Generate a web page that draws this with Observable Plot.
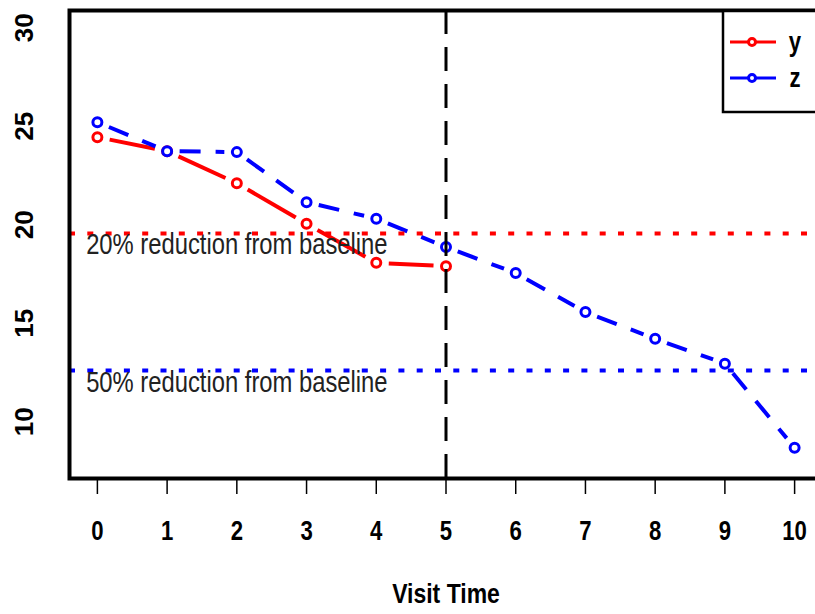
<!DOCTYPE html>
<html>
<head>
<meta charset="utf-8">
<script src="https://cdn.jsdelivr.net/npm/d3@7"></script>
<script src="https://cdn.jsdelivr.net/npm/@observablehq/plot@0.6"></script>
<style>
  html, body { margin: 0; padding: 0; background: #fff; }
  #chart { position: relative; width: 815px; height: 614px; overflow: hidden; }
</style>
</head>
<body>
<div id="chart"></div>
<script>
// ---- data ----
const visits = [0, 1, 2, 3, 4, 5, 6, 7, 8, 9, 10];
const yVisits = [0, 1, 2, 3, 4, 5];
const yValues = [24.45, 23.74, 22.11, 20.05, 18.07, 17.90];
const zValues = [25.21, 23.74, 23.69, 21.15, 20.31, 18.87, 17.55, 15.57, 14.21, 12.95, 8.68];
const xTicks = [0, 1, 2, 3, 4, 5, 6, 7, 8, 9, 10];
const yTicks = [10, 15, 20, 25, 30];
const seriesNames = ["y", "z"];
const seriesColors = ["#ff0000", "#0000ff"];
const refLevels = [19.56, 12.6];
const refLabels = ["20% reduction from baseline", "50% reduction from baseline"];
const refLabelX = 2;
const refLabelY = [19, 12];
const cutVisit = 5;
const xLabel = "Visit Time";
const xLim = [-0.4, 10.4];
const yLim = [7.12, 30.88];

// ---- layout ----
const W = 815, H = 614, mL = 69, mR = -7, mT = 10, mB = 136;
const SANS = "'Liberation Sans', Arial, sans-serif";
const NARROW_SCALE = 0.82;   // mimic the condensed look of the original text
const GAP = 12.5;            // R type = "b": gap around each point

const yRows = yVisits.map((v, i) => ({series: seriesNames[0], visit: v, value: yValues[i]}));
const zRows = visits.map((v, i) => ({series: seriesNames[1], visit: v, value: zValues[i]}));
const allRows = [...yRows, ...zRows];
const colorOf = s => seriesColors[seriesNames.indexOf(s)];
const refRows = refLabels.map((t, i) => ({t, x: refLabelX, y: refLabelY[i]}));

// scales identical to the plot's, used to trim each segment near its points
const sx = Plot.scale({x: {domain: xLim, range: [mL, W - mR]}});
const sy = Plot.scale({y: {domain: yLim, range: [H - mB, mT]}});
function gapSegments(rows) {
  const out = [];
  for (let i = 0; i < rows.length - 1; i++) {
    const a = rows[i], b = rows[i + 1];
    const x0 = sx.apply(a.visit), y0 = sy.apply(a.value);
    const x1 = sx.apply(b.visit), y1 = sy.apply(b.value);
    const d = Math.hypot(x1 - x0, y1 - y0);
    if (d <= 2 * GAP) continue;
    const t = GAP / d;
    out.push({seg: i, px: sx.invert(x0 + t * (x1 - x0)), py: sy.invert(y0 + t * (y1 - y0))});
    out.push({seg: i, px: sx.invert(x1 - t * (x1 - x0)), py: sy.invert(y1 - t * (y1 - y0))});
  }
  return out;
}
const ySegs = gapSegments(yRows);
const zSegs = gapSegments(zRows);

const chart = Plot.plot({
  width: W,
  height: H,
  marginTop: mT,
  marginBottom: mB,
  marginLeft: mL,
  marginRight: mR,
  style: {background: "#fff", fontFamily: SANS, overflow: "hidden"},
  x: {domain: xLim},
  y: {domain: yLim},
  marks: [
    Plot.line(ySegs, {x: "px", y: "py", z: "seg", stroke: seriesColors[0], strokeWidth: 4, strokeLinecap: "butt"}),
    Plot.line(zSegs, {x: "px", y: "py", z: "seg", stroke: seriesColors[1], strokeWidth: 4,
      strokeDasharray: "21,15", strokeLinecap: "butt"}),
    Plot.dot(allRows, {x: "visit", y: "value", r: 4.5, fill: "white",
      stroke: d => colorOf(d.series), strokeWidth: 3}),
    Plot.ruleY([refLevels[0]], {stroke: seriesColors[0], strokeWidth: 4, strokeDasharray: "6,12.3"}),
    Plot.ruleY([refLevels[1]], {stroke: seriesColors[1], strokeWidth: 4, strokeDasharray: "6,12.3"}),
    Plot.ruleX([cutVisit], {stroke: "#000", strokeWidth: 3, strokeDasharray: "24,13"}),
    Plot.text(refRows, {x: "x", y: "y", text: "t", fontSize: 29,
      fill: "#222", textAnchor: "middle", lineAnchor: "middle"}),
    Plot.axisX({ticks: xTicks, tickSize: 16, tickPadding: 26, tickFormat: d => String(d),
      fontSize: 27, fontWeight: "bold", strokeWidth: 1.5, label: null}),
    Plot.axisY({ticks: yTicks, tickSize: 15, tickPadding: 30, tickFormat: d => String(d),
      rotate: -90, textAnchor: "middle", lineAnchor: "middle",
      fontSize: 26, fontWeight: "bold", strokeWidth: 1.5, label: null}),
    Plot.text([xLabel], {text: d => d, frameAnchor: "bottom", dy: 116, lineAnchor: "middle",
      fontSize: 28, fontWeight: "bold", fill: "#000"}),
    Plot.frame({stroke: "#000", strokeWidth: 4})
  ]
});

document.getElementById("chart").appendChild(chart);

// ---- legend (R-style box, top-right) ----
const svg = d3.select(chart);
const lg = svg.append("g").attr("class", "legend");
lg.append("rect").attr("x", 723).attr("y", 11).attr("width", 130).attr("height", 101)
  .attr("fill", "#fff").attr("stroke", "#000").attr("stroke-width", 2.5);
seriesNames.forEach((name, i) => {
  const cy = 42 + i * 36;
  lg.append("line").attr("x1", 730).attr("x2", 776).attr("y1", cy).attr("y2", cy)
    .attr("stroke", seriesColors[i]).attr("stroke-width", 3);
  lg.append("circle").attr("cx", 752).attr("cy", cy).attr("r", 3.5)
    .attr("fill", "#fff").attr("stroke", seriesColors[i]).attr("stroke-width", 3);
  lg.append("text").attr("x", 795).attr("y", cy + 9).text(name)
    .attr("font-family", SANS).attr("font-weight", "bold").attr("font-size", 27).attr("fill", "#000");
});

// condense horizontal texts (everything except the rotated y tick labels)
chart.querySelectorAll("text").forEach(el => {
  if (el.closest('g[aria-label="y-axis tick label"]')) return;
  const L = el.getComputedTextLength();
  if (L > 0) {
    el.setAttribute("textLength", (L * NARROW_SCALE).toFixed(2));
    el.setAttribute("lengthAdjust", "spacingAndGlyphs");
  }
});
</script>
</body>
</html>
